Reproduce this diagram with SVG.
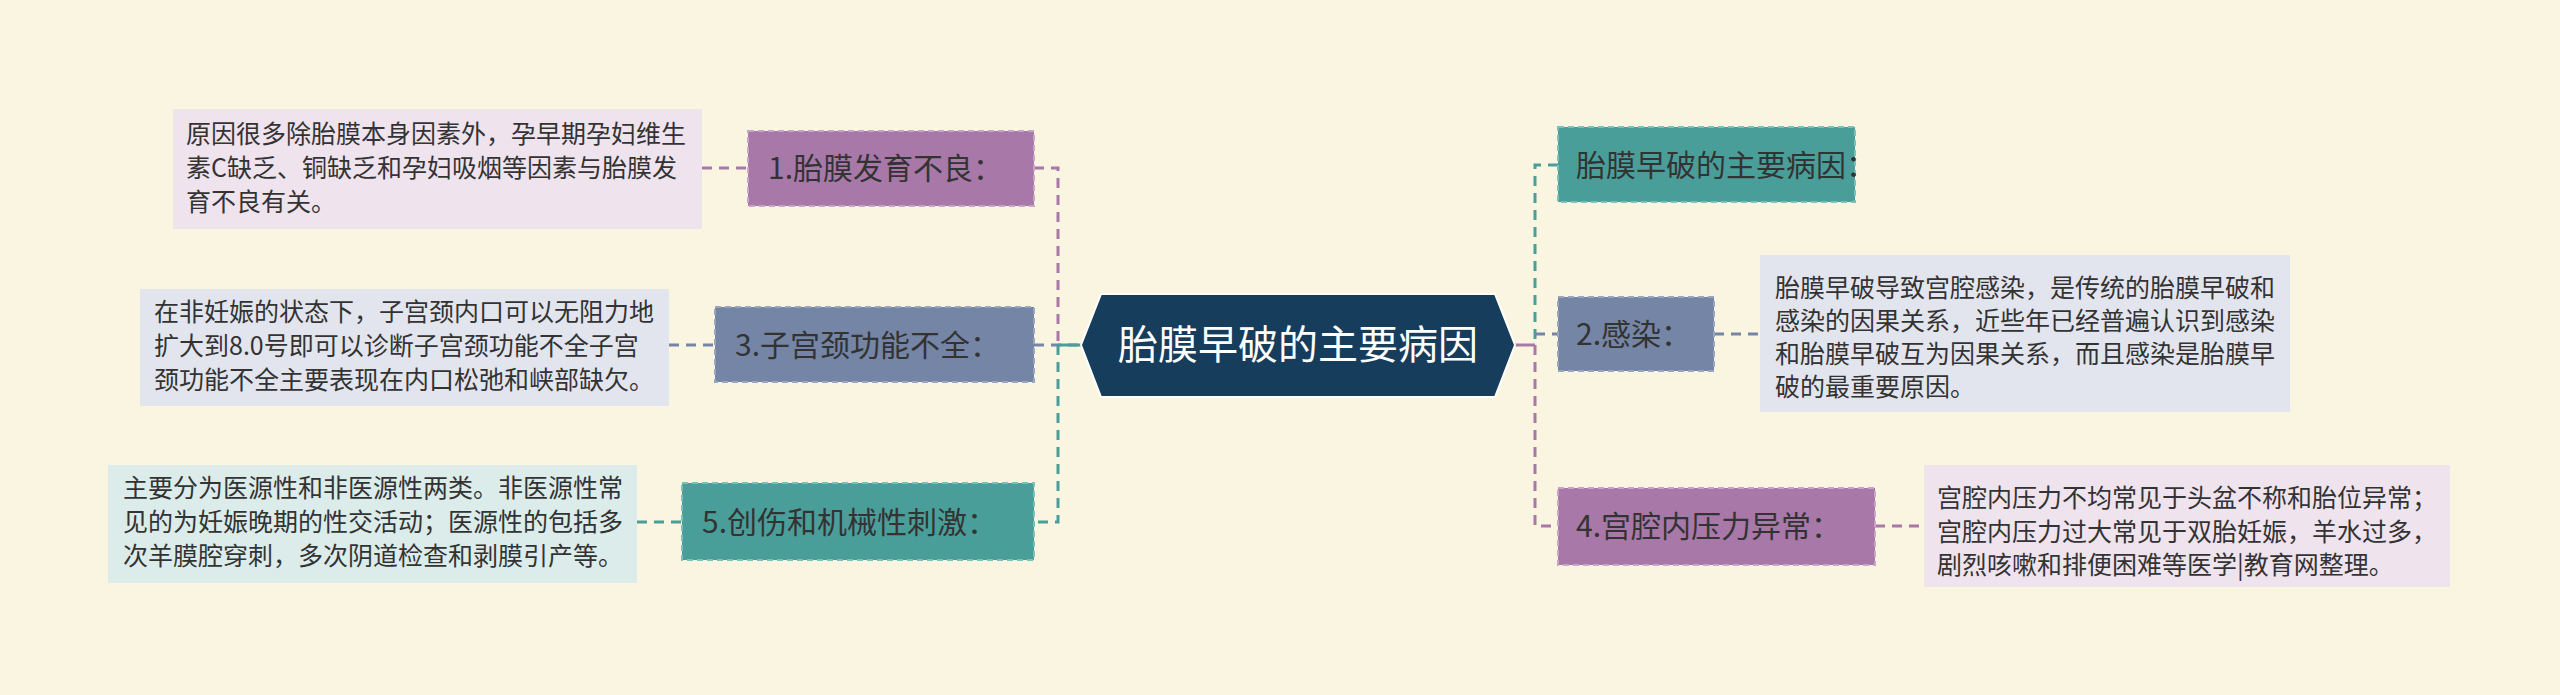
<svg xmlns="http://www.w3.org/2000/svg" width="2560" height="695" viewBox="0 0 2560 695">
<style>
text{font-family:"Noto Sans CJK SC","Noto Sans",sans-serif}
.note{font-size:25px;fill:#333333}
.lbl{font-size:30px;fill:#333333}
.pur{fill:#a878a8;stroke:#c9a4c9}
.sla{fill:#7585a5;stroke:#9aa6c0}
.tea{fill:#4a9e9a;stroke:#7cc0bc}
.box{stroke-width:2;stroke-dasharray:6 4}
.c{fill:none;stroke-width:3;stroke-dasharray:10 7}
</style>
<rect width="2560" height="695" fill="#faf5e0"/>
<g id="connectors">
<path class="c" stroke="#a878a8" d="M1034 168H1058V345"/>
<path class="c" stroke="#7585a5" d="M1034 345H1081"/>
<path class="c" stroke="#4a9e9a" d="M1058 345V522H1034"/>
<path d="M1058 345H1081" stroke="#4a9e9a" stroke-width="3"/>
<path class="c" stroke="#a878a8" d="M702 168H748"/>
<path class="c" stroke="#7585a5" d="M669 345H715"/>
<path class="c" stroke="#4a9e9a" d="M637 522H682"/>
<path d="M1515 345H1535" stroke="#a878a8" stroke-width="3"/>
<path class="c" stroke="#4a9e9a" d="M1558 165H1535V345"/>
<path class="c" stroke="#7585a5" d="M1535 334H1558"/>
<path class="c" stroke="#a878a8" d="M1535 345V526H1558"/>
<path class="c" stroke="#7585a5" d="M1714 334H1760"/>
<path class="c" stroke="#a878a8" d="M1875 526H1924"/>
</g>
<g id="center">
<polygon points="1081,345 1101,294 1495,294 1515,345 1495,397 1101,397" fill="#163d5c" stroke="#ffffff" stroke-width="2"/>
<text x="1298" y="359" font-size="40" fill="#ffffff" text-anchor="middle">胎膜早破的主要病因</text>
</g>
<g id="n1">
<rect class="box pur" x="748" y="131" width="286" height="75"/>
<text class="lbl" x="768" y="179">1.胎膜发育不良：</text>
</g>
<g id="note1">
<rect x="173" y="109" width="529" height="120" fill="#efe3ee"/>
<text class="note" x="186" y="143">原因很多除胎膜本身因素外，孕早期孕妇维生</text>
<text class="note" x="186" y="177">素C缺乏、铜缺乏和孕妇吸烟等因素与胎膜发</text>
<text class="note" x="186" y="211">育不良有关。</text>
</g>
<g id="n3">
<rect class="box sla" x="715" y="307" width="319" height="75"/>
<text class="lbl" x="735" y="356">3.子宫颈功能不全：</text>
</g>
<g id="note3">
<rect x="140" y="289" width="529" height="117" fill="#e3e5ee"/>
<text class="note" x="154" y="321">在非妊娠的状态下，子宫颈内口可以无阻力地</text>
<text class="note" x="154" y="355">扩大到8.0号即可以诊断子宫颈功能不全子宫</text>
<text class="note" x="154" y="389">颈功能不全主要表现在内口松弛和峡部缺欠。</text>
</g>
<g id="n5">
<rect class="box tea" x="682" y="483" width="352" height="77"/>
<text class="lbl" x="702" y="533">5.创伤和机械性刺激：</text>
</g>
<g id="note5">
<rect x="108" y="465" width="529" height="118" fill="#dbecea"/>
<text class="note" x="123" y="497">主要分为医源性和非医源性两类。非医源性常</text>
<text class="note" x="123" y="531">见的为妊娠晚期的性交活动；医源性的包括多</text>
<text class="note" x="123" y="565">次羊膜腔穿刺，多次阴道检查和剥膜引产等。</text>
</g>
<g id="r1">
<rect class="box tea" x="1558" y="127" width="297" height="75"/>
<text class="lbl" x="1576" y="176">胎膜早破的主要病因：</text>
</g>
<g id="r2">
<rect class="box sla" x="1558" y="297" width="156" height="74"/>
<text class="lbl" x="1576" y="345">2.感染：</text>
</g>
<g id="note2">
<rect x="1760" y="255" width="530" height="157" fill="#e3e5ee"/>
<text class="note" x="1775" y="297">胎膜早破导致宫腔感染，是传统的胎膜早破和</text>
<text class="note" x="1775" y="330">感染的因果关系，近些年已经普遍认识到感染</text>
<text class="note" x="1775" y="363">和胎膜早破互为因果关系，而且感染是胎膜早</text>
<text class="note" x="1775" y="396">破的最重要原因。</text>
</g>
<g id="r4">
<rect class="box pur" x="1558" y="488" width="317" height="77"/>
<text class="lbl" x="1576" y="537">4.宫腔内压力异常：</text>
</g>
<g id="note4">
<rect x="1924" y="465" width="526" height="122" fill="#efe3ee"/>
<text class="note" x="1937" y="507">宫腔内压力不均常见于头盆不称和胎位异常；</text>
<text class="note" x="1937" y="541">宫腔内压力过大常见于双胎妊娠，羊水过多，</text>
<text class="note" x="1937" y="574">剧烈咳嗽和排便困难等医学|教育网整理。</text>
</g>
</svg>
